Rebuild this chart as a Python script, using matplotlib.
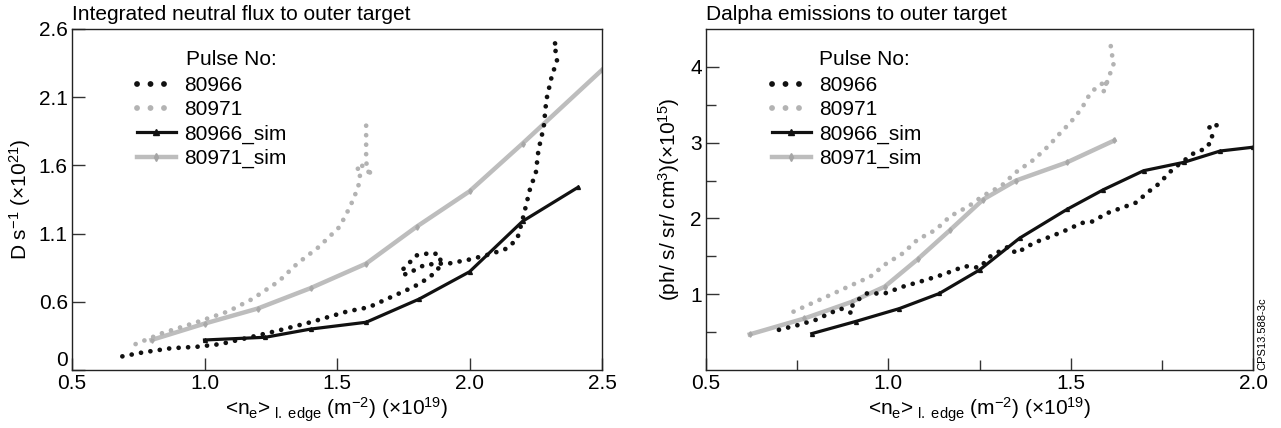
import numpy as np
import matplotlib
matplotlib.use('Agg')
import matplotlib.pyplot as plt
from matplotlib.lines import Line2D

plt.rcParams['font.family'] = ['Liberation Sans', 'DejaVu Sans']
plt.rcParams['mathtext.fontset'] = 'custom'
plt.rcParams['mathtext.rm'] = 'Liberation Sans'
plt.rcParams['mathtext.it'] = 'Liberation Sans:italic'
plt.rcParams['mathtext.default'] = 'regular'

# ---- left panel: integrated neutral flux ----
flux_66_x = [0.69, 0.77, 0.875, 0.97, 1.06, 1.15, 1.28, 1.40, 1.54, 1.62, 1.71, 1.79, 1.85, 1.89,
             1.89, 1.86, 1.80, 1.77, 1.74, 1.76, 1.79, 1.83, 1.88, 1.92, 2.0, 2.08, 2.14, 2.18,
             2.20, 2.23, 2.25, 2.26, 2.28, 2.29, 2.31, 2.33, 2.32, 2.34]
flux_66_y = [0.20, 0.23, 0.26, 0.27, 0.29, 0.33, 0.39, 0.45, 0.53, 0.56, 0.64, 0.71, 0.78, 0.86,
             0.94, 0.96, 0.94, 0.88, 0.82, 0.80, 0.83, 0.87, 0.88, 0.88, 0.91, 0.95, 0.99, 1.06,
             1.20, 1.44, 1.54, 1.71, 1.88, 2.08, 2.25, 2.37, 2.50, 2.46]
flux_71_x = [0.74, 0.84, 0.97, 1.09, 1.18, 1.28, 1.35, 1.43, 1.51, 1.55, 1.58, 1.59, 1.57, 1.60,
             1.62, 1.63, 1.61, 1.61, 1.61]
flux_71_y = [0.29, 0.37, 0.45, 0.53, 0.62, 0.75, 0.88, 1.00, 1.15, 1.30, 1.44, 1.57, 1.58, 1.60,
             1.55, 1.52, 1.62, 1.74, 1.92]
flux_66_sim_x = [1.0, 1.23, 1.40, 1.61, 1.81, 2.0, 2.20, 2.41]
flux_66_sim_y = [0.32, 0.34, 0.40, 0.45, 0.62, 0.82, 1.19, 1.44]
flux_71_sim_x = [0.80, 1.0, 1.2, 1.4, 1.61, 1.8, 2.0, 2.2, 2.5]
flux_71_sim_y = [0.32, 0.44, 0.55, 0.70, 0.88, 1.15, 1.41, 1.76, 2.30]

# ---- right panel: Dalpha emissions ----
da_66_x = [0.70, 0.75, 0.80, 0.84, 0.87, 0.89, 0.90, 0.90, 0.91, 0.94, 0.99, 1.04, 1.09, 1.15,
           1.21, 1.25, 1.28, 1.33, 1.35, 1.40, 1.45, 1.49, 1.53, 1.56, 1.60, 1.64, 1.68, 1.71,
           1.74, 1.78, 1.81, 1.84, 1.87, 1.89, 1.88, 1.90, 1.90]
da_66_y = [0.53, 0.59, 0.66, 0.75, 0.81, 0.77, 0.75, 0.84, 0.90, 1.01, 1.01, 1.10, 1.17, 1.26,
           1.37, 1.35, 1.50, 1.63, 1.54, 1.68, 1.77, 1.85, 1.94, 1.96, 2.07, 2.14, 2.21, 2.34,
           2.45, 2.65, 2.76, 2.87, 2.92, 3.05, 3.20, 3.25, 3.12]
da_71_x = [0.74, 0.79, 0.85, 0.89, 0.95, 0.99, 1.04, 1.08, 1.13, 1.17, 1.22, 1.26, 1.31, 1.35,
           1.40, 1.44, 1.47, 1.50, 1.53, 1.55, 1.57, 1.60, 1.59, 1.62, 1.61, 1.61]
da_71_y = [0.77, 0.88, 1.01, 1.10, 1.23, 1.39, 1.54, 1.72, 1.85, 2.03, 2.16, 2.30, 2.43, 2.61,
           2.78, 2.96, 3.12, 3.27, 3.45, 3.62, 3.73, 3.82, 3.67, 4.07, 4.20, 4.31]
da_66_sim_x = [0.79, 0.91, 1.03, 1.14, 1.25, 1.36, 1.49, 1.59, 1.70, 1.81, 1.91, 2.0]
da_66_sim_y = [0.48, 0.64, 0.81, 1.01, 1.32, 1.74, 2.12, 2.38, 2.63, 2.74, 2.89, 2.94]
da_71_sim_x = [0.62, 0.77, 0.90, 0.99, 1.08, 1.17, 1.26, 1.35, 1.49, 1.62]
da_71_sim_y = [0.47, 0.68, 0.90, 1.10, 1.46, 1.85, 2.25, 2.50, 2.74, 3.03]

labels = ['80966', '80971', '80966_sim', '80971_sim']
xlabel = r'<n$_e$>$_{\ \rm l.\ edge}$ (m$^{-2}$) (×10$^{19}$)'

BLACK = '#111111'
GREY = '#b3b3b3'
GREY_SIM = '#bdbdbd'
dot_ls = (0, (0.01, 2.0))


def draw(ax, d66, d71, s66, s71):
    ax.plot(s71[0], s71[1], color=GREY_SIM, lw=3.2, marker='d', ms=2.8, mfc='#a8a8a8', mec='#a8a8a8')
    ax.plot(d71[0], d71[1], color=GREY, lw=3.4, ls=dot_ls, dash_capstyle='round')
    ax.plot(d66[0], d66[1], color=BLACK, lw=3.4, ls=dot_ls, dash_capstyle='round')
    ax.plot(s66[0], s66[1], color=BLACK, lw=2.3, marker='^', ms=2.8)


def legend(ax, x0, title_x):
    h = [Line2D([], [], color=BLACK, lw=4.2, ls=(0, (0.01, 2.3)), dash_capstyle='round'),
         Line2D([], [], color=GREY, lw=4.2, ls=(0, (0.01, 2.3)), dash_capstyle='round'),
         Line2D([], [], color=BLACK, lw=2.3, marker='^', ms=5),
         Line2D([], [], color=GREY_SIM, lw=3.2, marker='d', ms=4, mfc='#a5a5a5', mec='#a5a5a5')]
    ax.legend(h, labels, loc='upper left', bbox_to_anchor=(x0, 0.862), frameon=False,
              fontsize=15, handlelength=1.85, handletextpad=0.4, labelspacing=0.25,
              borderpad=0, borderaxespad=0, markerfirst=True)
    ax.text(title_x, 0.912, 'Pulse No:', transform=ax.transAxes, fontsize=15,
            ha='left', va='center')


def style(ax):
    for s in ax.spines.values():
        s.set_linewidth(1.0)
        s.set_color('#222222')
    ax.tick_params(direction='in', length=9, width=1, labelsize=15, pad=3, color='#333333')
    ax.tick_params(which='minor', direction='in', length=7, width=1, color='#333333')


fig = plt.figure(figsize=(12.81, 4.28), dpi=100)
ax1 = fig.add_axes([72 / 1281, 58 / 428, 530 / 1281, 341 / 428])
ax2 = fig.add_axes([706 / 1281, 58 / 428, 547 / 1281, 341 / 428])

draw(ax1, (flux_66_x, flux_66_y), (flux_71_x, flux_71_y),
     (flux_66_sim_x, flux_66_sim_y), (flux_71_sim_x, flux_71_sim_y))
ax1.set_xlim(0.5, 2.5)
ax1.set_ylim(0.1, 2.6)
ax1.set_xticks([0.5, 1.0, 1.5, 2.0, 2.5])
ax1.set_xticklabels(['0.5', '1.0', '1.5', '2.0', '2.5'])
ax1.set_yticks([0.1, 0.6, 1.1, 1.6, 2.1, 2.6])
ax1.set_yticklabels(['0', '0.6', '1.1', '1.6', '2.1', '2.6'])
ax1.get_yticklabels()[0].set_va('bottom')
style(ax1)
ax1.set_xlabel(xlabel, fontsize=15, labelpad=2)
ax1.set_ylabel(r'D s$^{-1}$ (×10$^{21}$)', fontsize=15, labelpad=4)
ax1.text(0, 1.015, 'Integrated neutral flux to outer target', transform=ax1.transAxes,
         fontsize=15, ha='left', va='bottom')
legend(ax1, 0.123, 0.215)

draw(ax2, (da_66_x, da_66_y), (da_71_x, da_71_y),
     (da_66_sim_x, da_66_sim_y), (da_71_sim_x, da_71_sim_y))
ax2.set_xlim(0.5, 2.0)
ax2.set_ylim(0, 4.5)
ax2.set_xticks([0.5, 1.0, 1.5, 2.0])
ax2.set_xticklabels(['0.5', '1.0', '1.5', '2.0'])
ax2.set_xticks([0.75, 1.25, 1.75], minor=True)
ax2.set_yticks([1, 2, 3, 4])
ax2.set_yticks([0.5, 1.5, 2.5, 3.5], minor=True)
style(ax2)
ax2.set_xlabel(xlabel, fontsize=15, labelpad=2)
ax2.set_ylabel(r'(ph/ s/ sr/ cm$^3$)(×10$^{15}$)', fontsize=15, labelpad=6)
ax2.text(0, 1.015, 'Dalpha emissions to outer target', transform=ax2.transAxes,
         fontsize=15, ha='left', va='bottom')
legend(ax2, 0.121, 0.206)

fig.text(1262 / 1281, 58 / 428, 'CPS13.588-3c', rotation=90, fontsize=8,
         ha='center', va='bottom')

fig.savefig('out.png', dpi=100)
